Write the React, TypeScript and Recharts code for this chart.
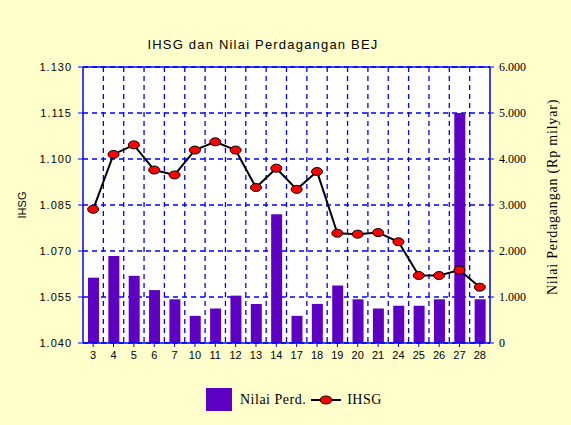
import {
  ComposedChart,
  Bar,
  Line,
  XAxis,
  YAxis,
  CartesianGrid,
  ReferenceLine,
} from "recharts";

const days = ["3", "4", "5", "6", "7", "10", "11", "12", "13", "14", "17", "18", "19", "20", "21", "24", "25", "26", "27", "28"];
const ihsg = [1083.6, 1101.5, 1104.6, 1096.4, 1094.8, 1102.9, 1105.6, 1102.9, 1090.7, 1097.0, 1090.1, 1095.9, 1075.8, 1075.5, 1076.0, 1073.0, 1062.0, 1062.0, 1063.8, 1058.2];
const nilai = [1420, 1890, 1460, 1150, 950, 590, 750, 1030, 850, 2800, 590, 850, 1250, 950, 750, 810, 810, 950, 5000, 950];
const leftTicks = [1040, 1055, 1070, 1085, 1100, 1115, 1130];
const rightTicks = [0, 1000, 2000, 3000, 4000, 5000, 6000];

const data = days.map((d, i) => ({ day: d, ihsg: ihsg[i], nilai: nilai[i] }));

const BLUE = "#0000FF";
const PURPLE = "#5E00C4";
const BG = "#FFFFCC";

const fmt = (v: number) => String(v).replace(/\B(?=(\d{3})+(?!\d))/g, ".");

const EllipseDot = ({ cx, cy, index }: any) => {
  if (cx == null || cy == null) return null;
  return (
    <ellipse
      key={index}
      cx={cx}
      cy={cy}
      rx={5.5}
      ry={4}
      fill="#FF0000"
      stroke="#000"
      strokeWidth={1}
    />
  );
};

export default function App() {
  return (
    <div
      style={{
        position: "absolute",
        left: 0,
        top: 0,
        width: 571,
        height: 425,
        background: BG,
      }}
    >
      <div
        style={{
          position: "absolute",
          left: 0,
          width: 526,
          top: 37,
          textAlign: "center",
          fontFamily: "Liberation Sans, Arial, sans-serif",
          fontSize: 13,
          letterSpacing: 1.2,
          color: "#000",
        }}
      >
        IHSG dan Nilai Perdagangan BEJ
      </div>
      <ComposedChart
        width={571}
        height={425}
        data={data}
        margin={{ top: 67, left: 33, right: 31, bottom: 52 }}
        barCategoryGap="45%"
      >
        <CartesianGrid
          yAxisId="left"
          fill="#FFFFFF"
          stroke={BLUE}
          strokeDasharray="5 4"
          strokeWidth={1.3}
          verticalCoordinatesGenerator={({ offset }: any) =>
            days.slice(1).map((_, i) => offset.left + ((i + 1) * offset.width) / days.length)
          }
        />
        <XAxis
          dataKey="day"
          interval={0}
          height={30}
          axisLine={{ stroke: BLUE, strokeWidth: 1.5 }}
          tickLine={{ stroke: BLUE }}
          tickSize={4}
          tickMargin={4}
          tick={{ fontSize: 11, fill: "#000", fontFamily: "Liberation Sans, Arial, sans-serif" }}
        />
        <YAxis
          yAxisId="left"
          orientation="left"
          width={50}
          domain={[1040, 1130]}
          ticks={leftTicks}
          tickFormatter={fmt}
          axisLine={{ stroke: BLUE, strokeWidth: 1.5 }}
          tickLine={{ stroke: BLUE }}
          tickSize={5}
          tickMargin={6}
          tick={{ fontSize: 11, fill: "#000", fontFamily: "Liberation Sans, Arial, sans-serif", letterSpacing: 1 }}
          label={{
            content: ({ viewBox }: any) => (
              <text
                x={22}
                y={viewBox.y + viewBox.height / 2}
                transform={`rotate(-90 22 ${viewBox.y + viewBox.height / 2})`}
                textAnchor="middle"
                dominantBaseline="central"
                fontSize={11}
                fontFamily="Liberation Sans, Arial, sans-serif"
                fill="#000"
              >
                IHSG
              </text>
            ),
          }}
        />
        <YAxis
          yAxisId="right"
          orientation="right"
          width={50}
          domain={[0, 6000]}
          ticks={rightTicks}
          tickFormatter={fmt}
          axisLine={{ stroke: BLUE, strokeWidth: 1.5 }}
          tickLine={{ stroke: BLUE }}
          tickSize={4}
          tickMargin={5}
          tick={{ fontSize: 12, fill: "#000", fontFamily: "Liberation Serif, Times New Roman, serif" }}
          label={{
            content: () => (
              <text
                x={552}
                y={197}
                transform="rotate(-90 552 197)"
                textAnchor="middle"
                dominantBaseline="central"
                fontSize={14}
                letterSpacing={0.8}
                fontFamily="Liberation Serif, Times New Roman, serif"
                fill="#000"
              >
                Nilai Perdagangan (Rp milyar)
              </text>
            ),
          }}
        />
        <ReferenceLine yAxisId="left" y={1130} stroke={BLUE} strokeWidth={1.5} />
        <Bar
          yAxisId="right"
          dataKey="nilai"
          fill={PURPLE}
          barSize={11}
          isAnimationActive={false}
        />
        <Line
          yAxisId="left"
          dataKey="ihsg"
          type="linear"
          stroke="#000"
          strokeWidth={2}
          dot={<EllipseDot />}
          activeDot={false}
          isAnimationActive={false}
        />
      </ComposedChart>
      <div
        style={{
          position: "absolute",
          left: 206,
          top: 388,
          display: "flex",
          alignItems: "center",
          fontFamily: "Liberation Serif, Times New Roman, serif",
          fontSize: 14,
          letterSpacing: 0.5,
          color: "#000",
        }}
      >
        <div style={{ width: 26, height: 23, background: PURPLE, marginRight: 8 }} />
        <span>Nilai Perd.</span>
        <svg width={30} height={12} style={{ marginLeft: 5, marginRight: 6 }}>
          <line x1={0} y1={6} x2={30} y2={6} stroke="#000" strokeWidth={2} />
          <ellipse cx={15} cy={6} rx={6} ry={4} fill="#FF0000" stroke="#000" strokeWidth={1} />
        </svg>
        <span>IHSG</span>
      </div>
    </div>
  );
}
